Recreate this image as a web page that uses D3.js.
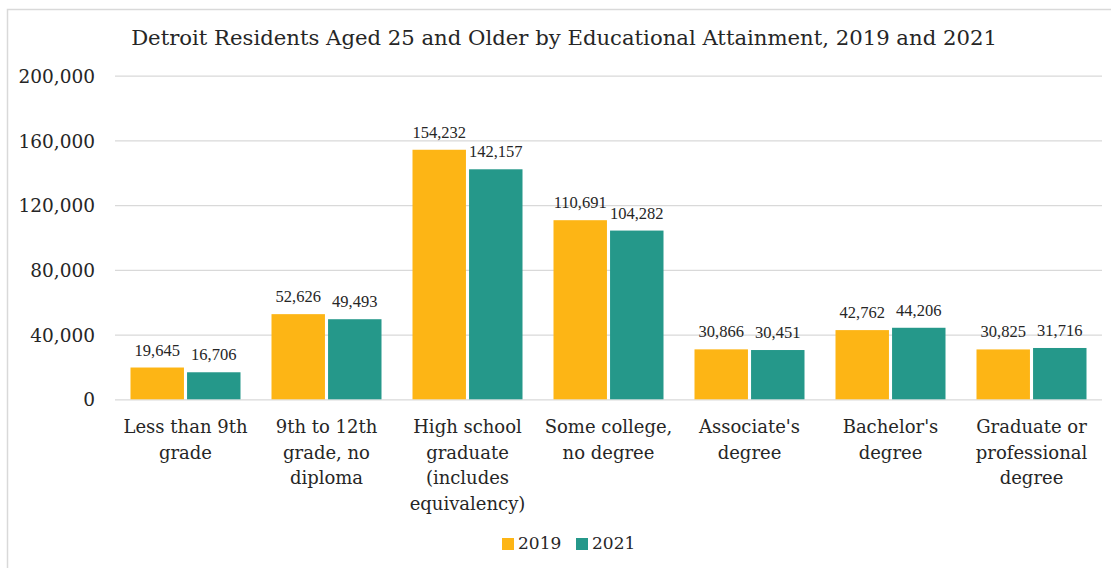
<!DOCTYPE html>
<html>
<head>
<meta charset="utf-8">
<script src="https://cdn.jsdelivr.net/npm/d3@7"></script>
<style>
  html, body { margin: 0; padding: 0; background: #fff; }
  svg { display: block; }
</style>
</head>
<body>
<svg id="chart" width="1111" height="568"></svg>
<script>
// ---- data ----
const title = "Detroit Residents Aged 25 and Older by Educational Attainment, 2019 and 2021";
const categories = [
  "Less than 9th\ngrade",
  "9th to 12th\ngrade, no\ndiploma",
  "High school\ngraduate\n(includes\nequivalency)",
  "Some college,\nno degree",
  "Associate's\ndegree",
  "Bachelor's\ndegree",
  "Graduate or\nprofessional\ndegree"
];
const seriesNames = ["2019", "2021"];
const values2019 = [19645, 52626, 154232, 110691, 30866, 42762, 30825];
const values2021 = [16706, 49493, 142157, 104282, 30451, 44206, 31716];
const yTicks = [0, 40000, 80000, 120000, 160000, 200000];
const colors = ["#FDB515", "#25988A"];

// ---- layout ----
const svg = d3.select("#chart");
const W = 1111, H = 568;
const plot = { left: 115, right: 1102, top: 75.7, bottom: 399.3 };
const serif = "'DejaVu Serif', serif";
const labelFont = "'Liberation Serif', serif";
const textColor = "#262626";

// frame
svg.append("rect")
  .attr("x", 7.5).attr("y", 9.5)
  .attr("width", W + 10).attr("height", H + 10)
  .attr("fill", "#fff").attr("stroke", "#d9d9d9").attr("stroke-width", 1.5);

const x0 = d3.scaleBand().domain(d3.range(categories.length))
  .range([plot.left, plot.right]).paddingInner(0).paddingOuter(0);
const innerW = 110;
const x1 = d3.scaleBand().domain(seriesNames).range([0, innerW]).paddingInner(0.055);
const y = d3.scaleLinear().domain([0, 200000]).range([plot.bottom, plot.top]);

// title
svg.append("text")
  .attr("x", 564).attr("y", 45)
  .attr("text-anchor", "middle")
  .attr("font-family", serif).attr("font-size", 21.2)
  .attr("fill", textColor)
  .text(title);

// gridlines
const yAxis = d3.axisLeft(y).tickValues(yTicks)
  .tickSize(-(plot.right - plot.left)).tickPadding(20)
  .tickFormat(d3.format(","));
const gy = svg.append("g").attr("transform", `translate(${plot.left},0)`).call(yAxis);
gy.select(".domain").remove();
gy.selectAll(".tick line").attr("stroke", "#d9d9d9").attr("stroke-width", 1.3);
gy.selectAll(".tick text")
  .attr("font-family", serif).attr("font-size", 18.5)
  .attr("fill", textColor).attr("dy", "0.36em");

// bars
const rows = categories.map((c, i) => ({ i, vals: [values2019[i], values2021[i]] }));
const groups = svg.append("g").selectAll("g").data(rows).join("g")
  .attr("transform", d => `translate(${x0(d.i) + (x0.bandwidth() - innerW) / 2},0)`);

groups.selectAll("rect").data(d => d.vals.map((v, k) => ({ v, k })))
  .join("rect")
  .attr("x", d => x1(seriesNames[d.k]))
  .attr("width", x1.bandwidth())
  .attr("y", d => y(d.v))
  .attr("height", d => y(0) - y(d.v))
  .attr("fill", d => colors[d.k]);

groups.selectAll("text.val").data(d => d.vals.map((v, k) => ({ v, k })))
  .join("text")
  .attr("class", "val")
  .attr("x", d => x1(seriesNames[d.k]) + x1.bandwidth() / 2)
  .attr("y", d => y(d.v) - 12)
  .attr("text-anchor", "middle")
  .attr("font-family", labelFont).attr("font-size", 16.5)
  .attr("fill", textColor)
  .text(d => d3.format(",")(d.v));

// category labels
const xl = svg.append("g");
categories.forEach((c, i) => {
  const t = xl.append("text")
    .attr("x", x0(i) + x0.bandwidth() / 2)
    .attr("y", 433)
    .attr("text-anchor", "middle")
    .attr("font-family", serif).attr("font-size", 18)
    .attr("fill", textColor);
  c.split("\n").forEach((line, j) => {
    t.append("tspan").attr("x", x0(i) + x0.bandwidth() / 2)
      .attr("dy", j === 0 ? 0 : 25.5).text(line);
  });
});

// legend
const legend = svg.append("g").attr("transform", "translate(502,538)");
const legX = [0, 74];
seriesNames.forEach((s, k) => {
  const g = legend.append("g").attr("transform", `translate(${legX[k]},0)`);
  g.append("rect").attr("width", 12).attr("height", 12).attr("fill", colors[k]);
  g.append("text").attr("x", 16).attr("y", 11)
    .attr("font-family", serif).attr("font-size", 17)
    .attr("fill", textColor).text(s);
});
</script>
</body>
</html>
